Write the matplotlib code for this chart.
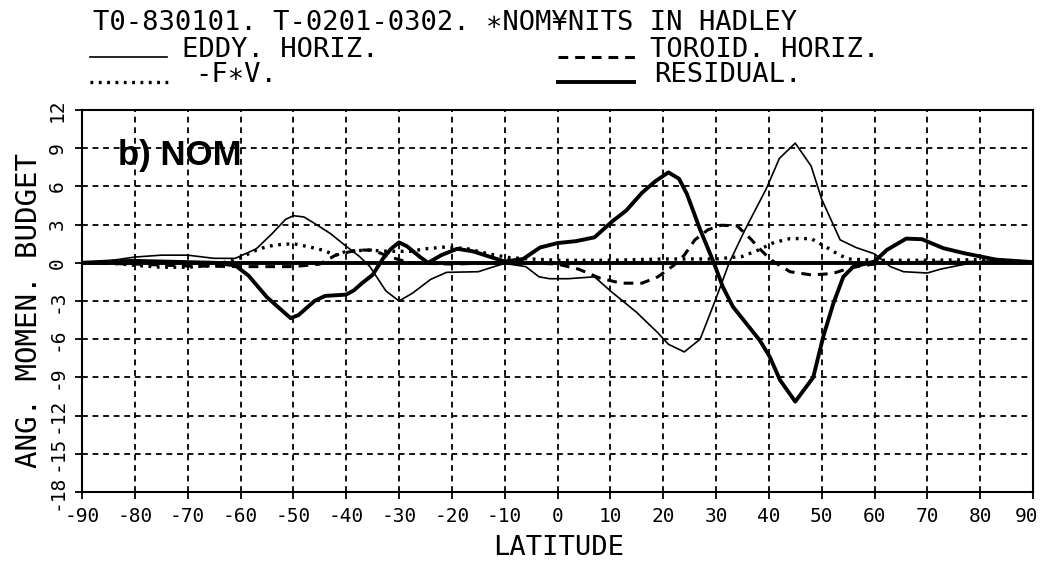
import matplotlib
matplotlib.use("Agg")
import matplotlib.pyplot as plt
from matplotlib.lines import Line2D
from matplotlib.transforms import ScaledTranslation

plt.rcParams['font.family'] = ['DejaVu Sans Mono']
plt.rcParams['lines.scale_dashes'] = False

# ---------------- data ----------------
eddy_lat = [-90, -85, -80, -75, -70, -65, -61, -57, -54, -51.5, -50, -48, -46, -43, -40, -37.5, -35.5, -32.5,
            -30, -27.5, -24, -21, -15, -12, -10, -6, -3.5, -1.5, 2, 7, 10, 15, 19, 21, 24, 27, 30, 32.5, 35.5,
            39.5, 42, 45, 48, 50, 53.5, 56.5, 60, 63, 65.5, 70, 72.5, 76, 80, 85, 90]
eddy_val = [0, 0.15, 0.45, 0.6, 0.6, 0.35, 0.35, 1.1, 2.3, 3.4, 3.7, 3.6, 3.1, 2.3, 1.3, 0.5, -0.3, -2.2,
            -3.0, -2.4, -1.3, -0.75, -0.7, -0.3, -0.05, -0.3, -1.1, -1.25, -1.25, -1.1, -2.2, -3.9, -5.5, -6.4,
            -7.0, -6.0, -2.8, 0.0, 2.6, 5.8, 8.2, 9.4, 7.6, 5.0, 1.8, 1.2, 0.7, -0.3, -0.7, -0.8, -0.5, -0.2,
            0.1, 0.2, 0.0]

tor_lat = [-90, -80, -70, -60, -50, -45, -42, -38, -35, -32, -28, -20, -12, -5, 0, 4, 8, 12, 16, 19, 22, 24,
           26, 28.5, 31, 34, 36.5, 38.5, 40.5, 44, 48, 52, 55, 58, 62, 70, 80, 90]
tor_val = [0, -0.1, -0.25, -0.3, -0.3, -0.1, 0.6, 1.0, 1.0, 0.5, 0.0, -0.1, 0.0, 0.0, -0.1, -0.5, -1.2, -1.6,
           -1.6, -1.1, -0.2, 0.6, 1.8, 2.6, 2.95, 2.9, 1.9, 1.0, 0.2, -0.7, -0.95, -0.85, -0.45, -0.2, 0.0,
           0.05, 0.05, 0]

fv_lat = [-90, -85, -80, -75, -70, -65, -60, -56.5, -53.5, -50, -47, -44.5, -42, -40, -36, -32, -28, -25, -21,
          -17, -13, -9, -5, 0, 10, 20, 30, 35, 38, 41, 44, 48, 51, 53, 55, 60, 70, 80, 85, 90]
fv_val = [0, 0, -0.2, -0.35, -0.35, -0.2, 0.4, 1.1, 1.4, 1.5, 1.25, 1.0, 0.6, 0.9, 1.0, 0.9, 0.9, 1.1, 1.25,
          1.1, 0.7, 0.4, 0.3, 0.2, 0.2, 0.3, 0.3, 0.5, 1.0, 1.6, 1.9, 1.9, 1.2, 0.7, 0.3, 0.2, 0.2, 0.25, 0.1, 0]

res_lat = [-90, -85, -80, -75, -70, -65, -61, -58.5, -55, -52, -50.5, -49, -46, -44, -40, -38.5, -37, -35, -33,
           -31.5, -30, -28.5, -26, -24.5, -22, -19, -16, -13, -10, -6.5, -3.3, 0, 3.5, 7, 10.5, 13, 16, 18.5,
           21, 23, 24.5, 27, 29.5, 31.3, 33.2, 35.8, 38.3, 40.2, 42.1, 45, 48.4, 50.3, 52.2, 54.1, 56, 60,
           62.3, 66, 69, 73, 77, 80, 83, 90]
res_val = [0, 0.1, 0.15, 0.1, 0.05, 0, -0.2, -1.0, -2.7, -3.8, -4.35, -4.1, -3.0, -2.6, -2.5, -2.15, -1.6,
           -0.95, 0.35, 1.1, 1.6, 1.3, 0.45, 0.0, 0.6, 1.1, 0.9, 0.5, 0.1, 0.3, 1.2, 1.55, 1.7, 2.0, 3.3, 4.1,
           5.5, 6.4, 7.1, 6.6, 5.4, 2.6, 0.1, -1.9, -3.45, -4.8, -6.1, -7.4, -9.2, -10.9, -9.0, -5.8, -3.2,
           -1.1, -0.3, 0.1, 1.0, 1.9, 1.85, 1.15, 0.75, 0.5, 0.25, 0.05]

x_ticks = list(range(-90, 91, 10))
x_tick_labels = ["-90", "-80", "-70", "-60", "-50", "-40", "-30", "-20", "-10", "0",
                 "10", "20", "30", "40", "50", "60", "70", "80", "90"]
y_ticks = list(range(-18, 13, 3))
y_tick_labels = ["-18", "-15", "-12", "-9", "-6", "-3", "0", "3", "6", "9", "12"]

title_text = "T0-830101. T-0201-0302. \u2217NOM\u00a5NITS IN HADLEY"
lab_eddy = "EDDY. HORIZ."
lab_tor = "TOROID. HORIZ."
lab_fv = "-F\u2217V."
lab_res = "RESIDUAL."
x_label = "LATITUDE"
y_label = "ANG. MOMEN. BUDGET"
panel_label = "b) NOM"

# ---------------- styles ----------------
W, H = 1042, 571
eddy_style = dict(color='k', lw=1.2, ls='-')
res_style = dict(color='k', lw=2.8, ls='-')
tor_style = dict(color='k', lw=2.2, ls=(0, (7, 5)), dash_capstyle='butt')
fv_style = dict(color='k', lw=2.4, ls=(0, (2.0, 4.0)), dash_capstyle='butt')
grid_style = dict(color='k', lw=1.3, ls=(0, (4.2, 3.4)), dash_capstyle='butt')

fig = plt.figure(figsize=(W / 100, H / 100), dpi=100)
fig.patch.set_facecolor('white')

def fx(x):
    return x / W

def fy(y):
    return 1 - y / H

ax_left, ax_right, ax_top, ax_bot = 82, 1033, 110, 492
ax = fig.add_axes([fx(ax_left), fy(ax_bot), (ax_right - ax_left) / W, (ax_bot - ax_top) / H])
ax.set_xlim(-90, 90)
ax.set_ylim(-18, 12)

# grid
for gx in x_ticks[1:-1]:
    ax.axvline(gx, zorder=1, **grid_style)
for gy in y_ticks[1:-1]:
    if gy != 0:
        ax.axhline(gy, zorder=1, **grid_style)
ax.axhline(0, color='k', lw=2.8, zorder=2)

ax.plot(fv_lat, fv_val, zorder=3, **fv_style)
ax.plot(tor_lat, tor_val, zorder=3, **tor_style)
ax.plot(eddy_lat, eddy_val, zorder=4, **eddy_style)
ax.plot(res_lat, res_val, zorder=4, **res_style)

for s in ax.spines.values():
    s.set_linewidth(1.5)

ax.set_xticks(x_ticks)
ax.set_xticklabels(x_tick_labels)
ax.set_yticks(y_ticks)
ax.set_yticklabels(y_tick_labels, rotation=90, va='center')
ax.tick_params(axis='x', direction='out', length=5, width=1.3, labelsize=14, pad=6)
ax.tick_params(axis='y', direction='out', length=5, width=1.3, labelsize=14, pad=6)

# keep the last x label inside the figure (as in the reference, it sits at the edge)
last = ax.get_xticklabels()[-1]
last.set_transform(last.get_transform() + ScaledTranslation(-6 / 100, 0, fig.dpi_scale_trans))

# axis labels
fig.text(fx(559), fy(555), x_label, fontsize=19.5, ha='center', va='baseline')
fig.text(fx(29), fy(311), y_label, fontsize=21, rotation=90, ha='center', va='center')

# header / legend
fs_head = 19.5
fig.text(fx(93), fy(30), title_text, fontsize=fs_head, ha='left', va='baseline')
fig.text(fx(182), fy(57), lab_eddy, fontsize=fs_head, ha='left', va='baseline')
fig.text(fx(650), fy(57), lab_tor, fontsize=fs_head, ha='left', va='baseline')
fig.text(fx(195), fy(82), lab_fv, fontsize=fs_head, ha='left', va='baseline')
fig.text(fx(654), fy(82), lab_res, fontsize=fs_head, ha='left', va='baseline')

fig.add_artist(Line2D([fx(90), fx(167)], [fy(57), fy(57)], transform=fig.transFigure, **eddy_style))
fig.add_artist(Line2D([fx(558), fx(640)], [fy(57), fy(57)], transform=fig.transFigure, **tor_style))
fig.add_artist(Line2D([fx(90), fx(173)], [fy(82), fy(82)], transform=fig.transFigure, **fv_style))
fig.add_artist(Line2D([fx(558), fx(634)], [fy(82), fy(82)], transform=fig.transFigure, **res_style))

# panel label
fig.text(fx(118), fy(165), panel_label, fontsize=25, fontweight='bold',
         family=['Liberation Sans', 'DejaVu Sans'], ha='left', va='baseline', zorder=5)

fig.savefig("out.png", dpi=100, facecolor='white')
